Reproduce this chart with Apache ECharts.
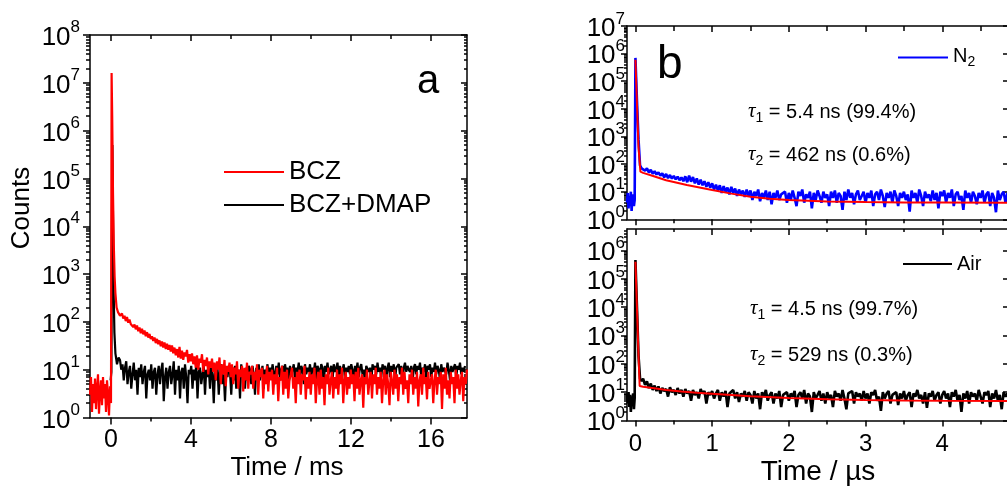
<!DOCTYPE html>
<html><head><meta charset="utf-8">
<script src="https://cdn.jsdelivr.net/npm/echarts@6/dist/echarts.min.js"></script>
<style>html,body{margin:0;padding:0;background:#fff}#c{width:1007px;height:494px}</style>
</head><body><div id="c"></div>
<script>
// ---------------- DATA ----------------
// Panel a : delayed emission decay (Counts vs Time / ms)
const bczHeadTime   = [-1.05,-1.0,-0.95,-0.9,-0.85,-0.8,-0.75,-0.7,-0.65,-0.6,-0.55,-0.5,-0.45,-0.4,-0.35,-0.3,-0.25,-0.2,-0.15,-0.1,-0.05,0.0,0.03,0.06,0.1,0.14,0.18,0.22,0.28,0.35,0.45];
const bczHeadCounts = [3,7,1.3,5,2,6.5,1.5,4,8,1.2,3.5,6,1.8,7,2.5,5,1.3,6,3,1.1,4.5,2,1.6e7,2e6,5e4,4e3,900,400,200,160,135];
const bczTailStart = 0.55, bczTailStep = 0.0625;
const bczTailCounts = [150,118,135,104,126,96,112,90,
 95,78,88,70,84,64,76,58,72,55,66,50,61,47,56,44,
 50,40,47,36,44,34,41,31,39,29,37,27,35,26,33,24,
 32,22,29,20,27,18,30,17,25,16,23,19,26,14,21,15,
 22,13,19,11,20,10,17,14,21,9,16,12,18,8,15,11,
 17,9,14,6,15,10,18,5,13,8,16,4.5,12,9,14,7,
 13,5,11,8,15,4,10,7,12,3.5,11,6,14,4,9,8,
 12,4,9,6,13,3,10,7,11,2.5,8,5,12,3.5,9,6,
 10,3,8,5,11,2.2,7,6,12,3,9,4,10,2.5,6,8,
 11,4,7,2,9,5,10,3,8,6,12,2.4,7,4,9,3,
 8,5,11,2,6,9,3,10,4,7,1.8,8,5,11,3,6,
 9,2.5,7,4,10,3,8,5,11,2,6,9,3,7,4,10,
 5,8,2.2,9,4,11,3,6,8,1.6,7,5,10,3,6,9,
 2.5,8,5,11,3,7,4,9,2,6,10,3,8,5,1.8,9,
 6,3,10,4,8,2.2,7,5,11,3,9,4,6,2,8,5,
 10,3,7,4,9,1.7,6,8,3,11,5,7,2.4,9,4,6,
 8,2,6,10,3,7,5,9,1.5,8,4,11,3,6,2.5,9,
 5,7,2,10,4,8,3,6,9,2.2,7,5,10];
const dmapHeadTime   = [-0.02,0.02,0.05,0.07,0.1,0.13,0.17,0.22,0.3,0.38];
const dmapHeadCounts = [6,9,2e4,5e5,1.5e4,500,60,22,13,18];
const dmapTailStart = 0.45, dmapTailStep = 0.0625;
const dmapTailCounts = [16,10,13,6,11,15,5,9,
 12,4,8,14,6,10,3,11,7,13,5,9,12,2.5,8,10,
 6,13,4,9,11,3,8,12,5,10,14,2.2,7,11,4,9,
 12,5,8,15,3,10,6,12,2.5,9,11,4,13,7,2,10,
 8,12,4,10,6,13,2.5,9,11,5,8,12,3,10,7,11,
 4,12,8,2,10,6,11,3,9,13,5,8,2.2,10,7,12,
 9,3,11,6,12,4,8,10,2.5,13,7,9,4,11,6,12,
 10,5,12,8,3,11,7,13,6,9,12,4,10,8,13,6,
 11,7,13,9,5,12,8,14,6,10,12,7,13,9,11,5,
 12,8,10,13,6,11,9,14,7,12,10,5,13,8,11,9,
 13,7,11,9,14,6,12,10,8,13,11,5,12,9,14,8,
 10,12,6,13,9,11,14,7,12,8,10,13,6,11,9,12,
 8,13,10,6,12,9,14,7,11,13,8,10,5,12,11,9,
 11,5,13,10,12,8,14,9,11,7,13,10,12,6,11,14,
 7,12,9,13,6,11,10,13,8,12,5,11,14,9,12,10,
 9,12,5,11,13,8,12,10,14,7,11,9,13,6,12,10,
 13,7,11,9,14,8,12,10,6,13,9,11,12,8,14,10,
 6,12,9,11,13,7,12,10,14,8,11,9,12];

// Panel b : prompt decay (Counts vs Time / µs)
const n2HeadTime   = [-0.11,-0.1,-0.09,-0.08,-0.07,-0.06,-0.05,-0.04,-0.03,-0.02,-0.01,0.0,0.02,0.04,0.06,0.08];
const n2HeadCounts = [4,9,2.5,7,3,10,2,6,8,3,5,7e5,2e4,800,90,70];
const n2TailStart = 0.10, n2TailStep = 0.025;
const n2TailCounts = [80,58,70,50,62,45,55,42,
 50,38,46,33,44,31,40,30,37,28,35,26,
 33,24,36,22,38,23,34,20,30,18,27,17,24,15,22,14,
 20,12,18,11,17,9,16,10,14,8,15,9,13,7,12,8,11,6.5,12,7,
 11,5,10,7,12,4.5,9,6,11,5,10,3.5,9,6,11,5,8,7,10,4,
 9,5,11,6,3,10,7,12,4,8,6,10,2.5,9,5,11,7,4,10,6,
 8,3,10,6,11,4,9,7,2.2,10,5,12,6,9,3.5,8,11,5,7,10,
 4,9,6,11,3,8,10,5,12,7,2.8,9,6,10,4,11,7,3,9,6,
 10,5,8,1.9,11,6,9,4,12,7,3,10,6,8,4.5,11,5,9,2.5,10,
 7,11,4,9,6,12,3,8,10,5,7,2.2,11,6,9,4,10,7,3.5,9,
 6,11,4,8,10,3,9,6,1.8,11,5,8,10,4,9,7];
const n2FitTime   = [0,0.02,0.04,0.065,0.1,0.23,0.4,0.67,1.0,1.25,1.5,1.75,2.0,2.5,3.0,3.5,4.0,4.87];
const n2FitCounts = [6e5,1.5e4,400,53,48,37,26,17.5,11.5,8.5,6.6,5.5,5.0,4.4,4.2,4.1,4.05,4.0];

const airHeadTime   = [-0.11,-0.1,-0.09,-0.08,-0.07,-0.06,-0.05,-0.04,-0.03,-0.02,-0.01,0.0,0.02,0.04,0.06,0.08];
const airHeadCounts = [9,4,10,3,8,2,7,5,9,2.5,6,4.6e5,1e4,200,30,25];
const airTailStart = 0.10, airTailStep = 0.025;
const airTailCounts = [30,18,24,14,20,12,17,11,
 16,9,14,11,13,7,15,10,12,8,14,9,
 12,7,13,9,11,5,12,8,10,6,13,9,11,4,10,8,
 11,6,9,12,5,10,7,11,3,9,8,12,6,10,4.5,9,7,11,5,10,
 8,4,11,6,9,2.5,10,7,12,5,8,10,4,9,6,11,3,8,7,10,
 5,9,7,11,3,8,10,6,12,4,9,7,2,10,6,8,11,5,9,4,
 10,6,8,3,11,7,9,5,12,6,2.5,9,8,11,4,10,7,9,5,11,
 6,9,4,10,8,12,5,7,2.2,10,6,9,11,4,8,7,10,3.5,9,6,
 11,5,8,10,3,9,7,12,6,8,4,10,2.8,9,7,11,5,8,10,4,
 8,11,6,9,3,10,7,12,5,8,2,9,6,11,4,10,7,9,5,12,
 7,4,10,8,11,3,9,6,12,5,8,2.5,10,7,9,6];
const airFitTime   = [0,0.02,0.04,0.055,0.1,0.2,0.4,0.6,0.8,1.0,1.5,2.0,2.5,3.0,3.5,4.0,4.87];
const airFitCounts = [4e5,9e3,200,16.5,15.5,14.2,12,10.5,9.5,8.8,7.2,6.2,5.6,5.3,5.1,5.0,4.9];

// tick labels
const xTicksA = [0,4,8,12,16];
const xMinorA = [2,6,10,14];
const xTicksB = [0,1,2,3,4];
const xMinorB = [0.5,1.5,2.5,3.5,4.5];
const yDecadesA = [0,1,2,3,4,5,6,7,8];
const yDecadesB1 = [0,1,2,3,4,5,6,7];
const yDecadesB2 = [0,1,2,3,4,5,6];

// ---------------- BUILD ----------------
const FONT = '"Liberation Sans", Arial, sans-serif';
const lg = c => Math.log10(c);
function pairs(t, c){ return t.map((v,i)=>[v, lg(c[i])]); }
function sampled(start, step, c){ return c.map((v,i)=>[+(start+i*step).toFixed(4), lg(v)]); }
function logMinors(lo, hi){ const out=[]; for(let d=Math.floor(lo); d<hi; d++){ for(let k=2;k<=9;k++){ const v=d+Math.log10(k); if(v>lo+1e-6 && v<hi-1e-6) out.push(v);} } return out; }
const evens = a => a.filter(v => v % 2 === 0);
const odds  = a => a.filter(v => v % 2 === 1);

const xAxes=[], yAxes=[];
function mk(grid, min, max, position, o){
  return {type:'value', gridIndex:grid, min, max, position, splitLine:{show:false},
    axisLine:{show:!!o.line, onZero:false, lineStyle:{color:'#000', width:1.5}},
    axisTick:o.ticks?{show:true, customValues:o.ticks, inside:!!o.inside, length:o.len, lineStyle:{color:'#000', width:1.5}}:{show:false},
    axisLabel:o.labels?Object.assign({show:true, customValues:o.labels, showMinLabel:true, showMaxLabel:true, hideOverlap:false}, o.labelStyle):{show:false},
    axisPointer:{show:false}, silent:true};
}
function add(list, a){ list.push(a); return list.length-1; }

const supRich = (fs, ss, pad) => ({ b:{fontSize:fs, fontFamily:FONT, color:'#000', verticalAlign:'top', padding:[pad,0,0,0]},
                                    s:{fontSize:ss, fontFamily:FONT, color:'#000', verticalAlign:'top'} });
const yFmt = v => '{b|10}{s|' + Math.round(v) + '}';

// grid 0 (panel a)
const AX = [-1.05, 17.8], AY = [0, 8];
const ax0 = add(xAxes, mk(0, AX[0], AX[1], 'bottom', {line:true, ticks:xTicksA, len:7, labels:xTicksA,
  labelStyle:{fontSize:25, fontFamily:FONT, color:'#000', margin:10}}));
add(xAxes, mk(0, AX[0], AX[1], 'bottom', {ticks:xMinorA, len:4}));
add(xAxes, mk(0, AX[0], AX[1], 'top', {line:true, ticks:xTicksA, len:6, inside:true}));
add(xAxes, mk(0, AX[0], AX[1], 'top', {ticks:xMinorA, len:4, inside:true}));
const ay0 = add(yAxes, mk(0, AY[0], AY[1], 'left', {line:true, ticks:yDecadesA, len:7, labels:yDecadesA,
  labelStyle:{margin:10, formatter:yFmt, rich:supRich(26,17,6)}}));
add(yAxes, mk(0, AY[0], AY[1], 'left', {ticks:logMinors(AY[0],AY[1]), len:4}));
add(yAxes, mk(0, AY[0], AY[1], 'right', {line:true, ticks:yDecadesA, len:6, inside:true}));
add(yAxes, mk(0, AY[0], AY[1], 'right', {ticks:logMinors(AY[0],AY[1]), len:3, inside:true}));

// grid 1 (panel b, N2)
const BX = [-0.11, 4.87], BY1 = [0, 7], BY2 = [0, 6.76];
const bLab = {margin:2, formatter:yFmt, rich:supRich(26,17,5)};
const ax1 = add(xAxes, mk(1, BX[0], BX[1], 'bottom', {line:true, ticks:xTicksB, len:6}));
add(xAxes, mk(1, BX[0], BX[1], 'bottom', {ticks:xMinorB, len:4}));
add(xAxes, mk(1, BX[0], BX[1], 'top', {line:true, ticks:xTicksB, len:6, inside:true}));
add(xAxes, mk(1, BX[0], BX[1], 'top', {ticks:xMinorB, len:5, inside:true}));
const ay1 = add(yAxes, mk(1, BY1[0], BY1[1], 'left', {line:true, ticks:yDecadesB1, len:6, labels:evens(yDecadesB1), labelStyle:bLab}));
add(yAxes, mk(1, BY1[0], BY1[1], 'left', {labels:odds(yDecadesB1), labelStyle:bLab}));
add(yAxes, mk(1, BY1[0], BY1[1], 'left', {ticks:logMinors(BY1[0],BY1[1]), len:3}));
add(yAxes, mk(1, BY1[0], BY1[1], 'right', {line:true, ticks:yDecadesB1, len:6, inside:true}));

// grid 2 (panel b, Air)
const ax2 = add(xAxes, mk(2, BX[0], BX[1], 'bottom', {line:true, ticks:xTicksB, len:6, labels:xTicksB,
  labelStyle:{fontSize:24, fontFamily:FONT, color:'#000', margin:12}}));
add(xAxes, mk(2, BX[0], BX[1], 'bottom', {ticks:xMinorB, len:4}));
add(xAxes, mk(2, BX[0], BX[1], 'top', {line:true, ticks:xTicksB, len:6, inside:true}));
add(xAxes, mk(2, BX[0], BX[1], 'top', {ticks:xMinorB, len:3, inside:true}));
const ay2 = add(yAxes, mk(2, BY2[0], BY2[1], 'left', {line:true, ticks:yDecadesB2, len:6, labels:evens(yDecadesB2), labelStyle:bLab}));
add(yAxes, mk(2, BY2[0], BY2[1], 'left', {labels:odds(yDecadesB2), labelStyle:bLab}));
add(yAxes, mk(2, BY2[0], BY2[1], 'left', {ticks:logMinors(BY2[0],BY2[1]), len:3}));
add(yAxes, mk(2, BY2[0], BY2[1], 'right', {line:true, ticks:yDecadesB2, len:6, inside:true}));

function line(name, data, color, xi, yi, w){
  return {type:'line', name, data, xAxisIndex:xi, yAxisIndex:yi, showSymbol:false, symbol:'none', sampling:null,
    color, itemStyle:{color}, lineStyle:{color, width:w, join:'bevel'}, silent:true, animation:false, clip:true, z:2};
}

const series = [
  line('BCZ+DMAP', pairs(dmapHeadTime, dmapHeadCounts).concat(sampled(dmapTailStart, dmapTailStep, dmapTailCounts)), '#000000', ax0, ay0, 2.2),
  line('BCZ', pairs(bczHeadTime, bczHeadCounts).concat(sampled(bczTailStart, bczTailStep, bczTailCounts)), '#ff0000', ax0, ay0, 2.2),
  line('N2', pairs(n2HeadTime, n2HeadCounts).concat(sampled(n2TailStart, n2TailStep, n2TailCounts)), '#0000ff', ax1, ay1, 2.6),
  line('N2 fit', pairs(n2FitTime, n2FitCounts), '#ff0000', ax1, ay1, 2),
  line('Air', pairs(airHeadTime, airHeadCounts).concat(sampled(airTailStart, airTailStep, airTailCounts)), '#000000', ax2, ay2, 2.6),
  line('Air fit', pairs(airFitTime, airFitCounts), '#ff0000', ax2, ay2, 2)
];

const tauRich = { t:{fontSize:21, fontStyle:'italic', fontFamily:'"Liberation Serif", serif', color:'#000', verticalAlign:'top'},
                  s:{fontSize:14, fontFamily:FONT, color:'#000', verticalAlign:'top', padding:[10,0,0,0]},
                  n:{fontSize:20, fontFamily:FONT, color:'#000', verticalAlign:'top', padding:[1,0,0,0]} };
function tau(idx, rest, x, y){
  return {type:'text', x, y, silent:true, style:{text:'{t|τ}{s|'+idx+'}{n|'+rest+'}', rich:tauRich, verticalAlign:'middle', align:'left'}};
}
function txt(s, x, y, fs, extra){
  return Object.assign({type:'text', x, y, silent:true, style:{text:s, fontSize:fs, fontFamily:FONT, fill:'#000', align:'center', verticalAlign:'middle'}}, extra||{});
}

const option = {
  animation:false,
  backgroundColor:'#ffffff',
  grid:[
    {left:90, top:35, width:377, height:382.5, containLabel:false, outerBoundsMode:'none'},
    {left:627, top:26, width:382, height:193.3, containLabel:false, outerBoundsMode:'none'},
    {left:627, top:229, width:382, height:191.5, containLabel:false, outerBoundsMode:'none'}
  ],
  xAxis:xAxes, yAxis:yAxes,
  legend:[
    {data:['BCZ','BCZ+DMAP'], orient:'vertical', left:219, top:154, itemWidth:60, itemHeight:2, icon:'rect', itemGap:7, selectedMode:false,
     textStyle:{fontSize:26, fontFamily:FONT, color:'#000'}},
    {data:['N2'], orient:'vertical', left:893, top:41, itemWidth:50, itemHeight:2, icon:'rect', selectedMode:false,
     formatter:()=> '{n|N}{sub|2}',
     textStyle:{fontSize:20, fontFamily:FONT, color:'#000', rich:{n:{fontSize:20, fontFamily:FONT, color:'#000', verticalAlign:'top'}, sub:{fontSize:14, fontFamily:FONT, color:'#000', verticalAlign:'top', padding:[9,0,0,0]}}}},
    {data:['Air'], orient:'vertical', left:898, top:249, itemWidth:49, itemHeight:2, icon:'rect', selectedMode:false,
     textStyle:{fontSize:20, fontFamily:FONT, color:'#000'}}
  ],
  series,
  graphic:[
    txt('Counts', 22, 208, 26, {rotation:Math.PI/2}),
    txt('Time / ms', 287, 468, 26),
    txt('Time / \u00b5s', 818, 472, 28),
    txt('a', 417, 82, 40, {style:{text:'a', fontSize:40, fontFamily:FONT, fill:'#000', align:'left', verticalAlign:'middle'}}),
    txt('b', 657, 65, 46, {style:{text:'b', fontSize:46, fontFamily:FONT, fill:'#000', align:'left', verticalAlign:'middle'}}),
    tau(1, ' = 5.4 ns (99.4%)', 748, 113),
    tau(2, ' = 462 ns (0.6%)', 748, 156),
    tau(1, ' = 4.5 ns (99.7%)', 750, 310),
    tau(2, ' = 529 ns (0.3%)', 750, 356)
  ]
};
const chart = echarts.init(document.getElementById('c'), null, {renderer:'canvas'});
chart.setOption(option);
</script></body></html>
